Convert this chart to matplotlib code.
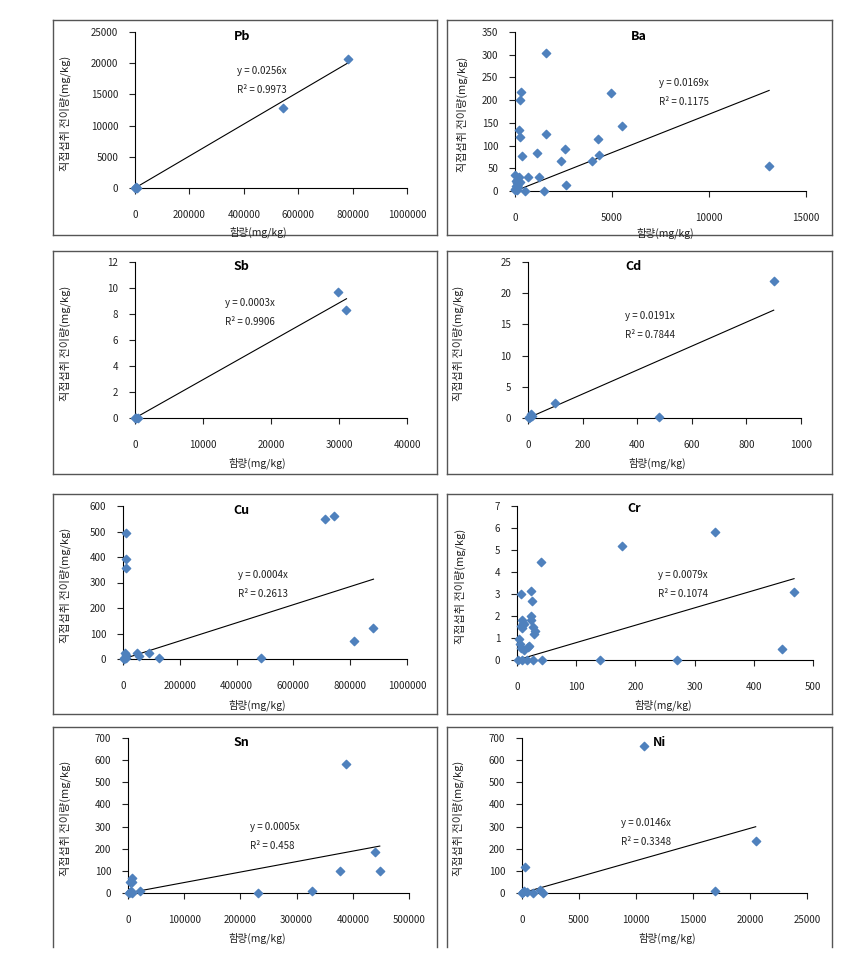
import numpy as np
import matplotlib
matplotlib.use("Agg")
import matplotlib.pyplot as plt
from matplotlib.lines import Line2D

plt.rcParams['font.family'] = ['Noto Sans CJK KR', 'DejaVu Sans']

# ---- data ----
pb_x = [0, 2000, 5000, 8000, 543000, 784000]
pb_y = [0, 50, 100, 20, 12770, 20670]
pb_slope = 0.0256

ba_x = [1600, 290, 260, 4950, 5500, 210, 260, 1600, 4260, 380, 1120, 2580, 2370, 3950,
        4350, 680, 1240, 2650, 500, 1500, 13100,
        0, 200, 40, 120, 60, 180, 20, 90, 150, 250, 10, 100]
ba_y = [303, 219, 200, 215, 143, 134, 118, 125, 114, 78, 83, 92, 65, 65,
        79, 30, 31, 14, 0, 0, 55,
        35, 31, 22, 18, 12, 8, 5, 25, 15, 20, 2, 3]
ba_slope = 0.0169

sb_x = [0, 100, 200, 400, 29800, 31100]
sb_y = [0, 0.02, 0.01, 0.03, 9.7, 8.3]
sb_slope = 0.000295

cd_x = [900, 100, 480, 10, 2, 5, 15, 8]
cd_y = [22.0, 2.35, 0.1, 0.6, 0, 0.1, 0.3, 0.2]
cd_slope = 0.0192

cu_x = [10000, 10000, 9000, 712000, 742000, 815000, 882000, 485000, 128000, 90000,
        48000, 55000, 8000, 10000, 5000, 3000, 12000]
cu_y = [495, 392, 355, 549, 562, 72, 120, 3, 5, 22,
        25, 10, 25, 15, 0, 3, 5]
cu_slope = 0.000355

cr_x = [335, 177, 41, 23, 7, 25, 468, 447, 270, 141, 42, 27, 17, 9, 2,
        23, 24, 8, 10, 7, 12, 9, 27, 30, 29, 3, 5, 7, 12, 18, 20]
cr_y = [5.8, 5.2, 4.45, 3.15, 3.0, 2.7, 3.1, 0.5, 0, 0, 0, 0, 0, 0, 0,
        2.0, 1.82, 1.8, 1.7, 1.55, 1.65, 1.45, 1.5, 1.3, 1.2, 0.95, 0.75, 0.55, 0.45, 0.6, 0.65]
cr_slope = 0.0079

sn_x = [388000, 440000, 448000, 378000, 327000, 231000, 22000, 8000, 7000, 3000,
        1000, 3000, 5000, 8000, 6000]
sn_y = [581, 186, 100, 100, 8, 2, 10, 68, 50, 48,
        0, 3, 5, 0, 10]
sn_slope = 0.000473

ni_x = [10700, 20500, 16900, 250, 0, 175, 940, 1580, 1800, 400, 100]
ni_y = [665, 236, 8, 116, 0, 10, 0, 12, 0, 3, 5]
ni_slope = 0.0146

names = ['Pb', 'Ba', 'Sb', 'Cd', 'Cu', 'Cr', 'Sn', 'Ni']
xs = [pb_x, ba_x, sb_x, cd_x, cu_x, cr_x, sn_x, ni_x]
ys = [pb_y, ba_y, sb_y, cd_y, cu_y, cr_y, sn_y, ni_y]
slopes = [pb_slope, ba_slope, sb_slope, cd_slope, cu_slope, cr_slope, sn_slope, ni_slope]
eq_labels = ['y = 0.0256x', 'y = 0.0169x', 'y = 0.0003x', 'y = 0.0191x',
             'y = 0.0004x', 'y = 0.0079x', 'y = 0.0005x', 'y = 0.0146x']
r2_labels = ['R² = 0.9973', 'R² = 0.1175', 'R² = 0.9906', 'R² = 0.7844',
             'R² = 0.2613', 'R² = 0.1074', 'R² = 0.458', 'R² = 0.3348']
xmax = [1000000, 15000, 40000, 1000, 1000000, 500, 500000, 25000]
xstep = [200000, 5000, 10000, 200, 200000, 100, 100000, 5000]
ymax = [25000, 350, 12, 25, 600, 7, 700, 700]
ystep = [5000, 50, 2, 5, 100, 1, 100, 100]

xlabel = '함량(mg/kg)'
ylabel = '직접섭취 전이량(mg/kg)'

# ---- layout in pixels (left, right, top, bottom of plot area) ----
W, H = 853, 960
axes_px = [(135, 407, 32, 188), (515, 806, 32, 191),
           (135, 407, 262, 418), (528, 801, 262, 418),
           (123, 407, 506, 659), (517, 813, 506, 660),
           (128, 409, 738, 893), (522, 807, 738, 893)]
title_px = [(242, 36), (639, 36), (241, 267), (634, 267),
            (241, 510), (634, 509), (241, 743), (660, 743)]
eq_px = [(237, 71), (659, 83), (225, 303), (625, 316),
         (238, 575), (658, 575), (250, 827), (621, 823)]
xlab_px = [(258, 232), (665, 233), (257, 463), (657, 463),
           (257, 705), (663, 705), (257, 938), (667, 938)]
ylab_px = [65, 462, 65, 458, 65, 460, 65, 458]


def fx(x):
    return x / W


def fy(y):
    return 1 - y / H


fig = plt.figure(figsize=(W / 100, H / 100), dpi=100)

for i in range(8):
    l, r, t, b = axes_px[i]
    ax = fig.add_axes([fx(l), fy(b), (r - l) / W, (b - t) / H])
    ax.scatter(xs[i], ys[i], marker='D', s=18, color='#4F81BD', zorder=3, clip_on=False)
    xl = np.array([0, max(xs[i])])
    ax.plot(xl, slopes[i] * xl, color='black', lw=0.8, zorder=2)
    ax.set_xlim(0, xmax[i])
    ax.set_ylim(0, ymax[i])
    ax.set_xticks(np.arange(0, xmax[i] + 1, xstep[i]))
    ax.set_yticks(np.arange(0, ymax[i] + 0.001, ystep[i]))
    ax.xaxis.set_major_formatter(matplotlib.ticker.FormatStrFormatter('%d'))
    ax.yaxis.set_major_formatter(matplotlib.ticker.FormatStrFormatter('%d'))
    for s in ['top', 'right']:
        ax.spines[s].set_visible(False)
    for s in ['left', 'bottom']:
        ax.spines[s].set_linewidth(0.8)
    ax.tick_params(axis='x', direction='out', length=4, width=0.8, pad=12,
                   labelsize=7, colors='#222222')
    ax.tick_params(axis='y', direction='out', length=4, width=0.8, pad=8,
                   labelsize=7, colors='#222222')
    ax.patch.set_alpha(0)

    fig.text(fx(title_px[i][0]), fy(title_px[i][1]), names[i], ha='center', va='center',
             fontsize=9, fontweight='bold')
    fig.text(fx(eq_px[i][0]), fy(eq_px[i][1]), eq_labels[i], ha='left', va='center',
             fontsize=7, color='#222222')
    fig.text(fx(eq_px[i][0]), fy(eq_px[i][1] + 19), r2_labels[i], ha='left', va='center',
             fontsize=7, color='#222222')
    fig.text(fx(xlab_px[i][0]), fy(xlab_px[i][1]), xlabel, ha='center', va='center',
             fontsize=7.5, color='#222222')
    fig.text(fx(ylab_px[i]), fy((t + b) / 2 + 3), ylabel, ha='center', va='center',
             rotation=90, fontsize=8, color='#222222')

# ---- panel borders ----
cols = [(53, 437), (447, 832)]
rows = [(20, 235), (251, 474), (494, 714), (727, 947)]
for ri, (top, bot) in enumerate(rows):
    for (lft, rgt) in cols:
        segs = [([lft, rgt], [top, top]), ([lft, lft], [top, bot]), ([rgt, rgt], [top, bot])]
        if ri < 3:
            segs.append(([lft, rgt], [bot, bot]))
        for sx, sy in segs:
            fig.add_artist(Line2D([fx(v) for v in sx], [fy(v) for v in sy],
                                  color='#555555', lw=1.0))

fig.savefig('out.png', dpi=100)
